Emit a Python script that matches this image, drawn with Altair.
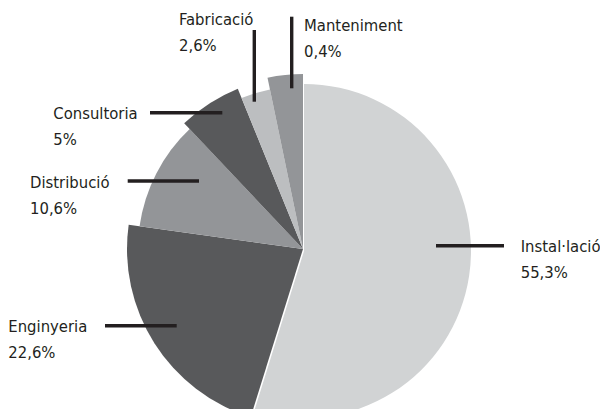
import math
import altair as alt
import pandas as pd

# ---- data ----
categories = ["Instal·lació", "Enginyeria", "Distribució", "Consultoria", "Fabricació", "Manteniment"]
# share of the circle each drawn slice covers (measured angles)
shares = [54.8, 22.4, 10.75, 5.9, 2.9, 3.25]
# percentages printed in the labels
pct_labels = ["55,3%", "22,6%", "10,6%", "5%", "2,6%", "0,4%"]

# ---- styles / layout ----
colors = ["#d1d3d4", "#58595b", "#939598", "#58595b", "#bcbec0", "#939598"]
radii = [167, 176, 165, 173, 163, 175]
# small outward shift of each slice's apex (pixels)
shift_x = [1, 0, 0, 0, 0, 0]
shift_y = [2, 0, 0, 0, 0, 0]
CX, CY = 295, 241
FONT = "Liberation Sans Narrow, DejaVu Sans Condensed, Roboto, sans-serif"
INK = "#231f20"

# leader lines (x1, y1, x2, y2) in plot pixels
leaders = {
    "Instal·lació": (428, 237.7, 496, 237.7),
    "Enginyeria": (97, 317.7, 168.7, 317.7),
    "Distribució": (119.7, 173, 191, 173),
    "Consultoria": (142, 104.7, 214.3, 104.7),
    "Fabricació": (246.3, 22, 246.3, 93.7),
    "Manteniment": (283.7, 8.7, 283.7, 80.3),
}
# label anchor (left, first baseline) in plot pixels
label_xy = {
    "Instal·lació": (512.7, 243.7),
    "Enginyeria": (0.3, 323.7),
    "Distribució": (22, 180.3),
    "Consultoria": (45.3, 111),
    "Fabricació": (171, 17),
    "Manteniment": (296, 22.7),
}

arc_df = pd.DataFrame({
    "cat": categories,
    "share": shares,
    "order": list(range(len(categories))),
    "r": radii,
    "cx": [CX + s for s in shift_x],
    "cy": [CY + s for s in shift_y],
})

arcs = alt.Chart(arc_df).transform_window(
    cum="sum(share)", sort=[alt.SortField("order", order="ascending")],
    frame=[None, 0],
).transform_calculate(
    start="datum.cum - datum.share"
).mark_arc(strokeWidth=0).encode(
    theta=alt.Theta("start:Q", scale=alt.Scale(domain=[0, 100], range=[0, 2 * math.pi]), stack=None),
    theta2=alt.Theta2("cum:Q"),
    radius=alt.Radius("r:Q", scale=None),
    color=alt.Color("cat:N", scale=alt.Scale(domain=categories, range=colors), legend=None),
    x=alt.X("cx:Q", scale=None, axis=None),
    y=alt.Y("cy:Q", scale=None, axis=None),
)

rule_df = pd.DataFrame([
    {"cat": c, "x1": leaders[c][0], "y1": leaders[c][1], "x2": leaders[c][2], "y2": leaders[c][3]}
    for c in categories
])
rules = alt.Chart(rule_df).mark_rule(color=INK, strokeWidth=3.4).encode(
    x=alt.X("x1:Q", scale=None, axis=None),
    y=alt.Y("y1:Q", scale=None, axis=None),
    x2="x2:Q",
    y2="y2:Q",
)

text_df = pd.DataFrame([
    {"cat": c, "label": f"{c}\n{p}", "x": label_xy[c][0], "y": label_xy[c][1]}
    for c, p in zip(categories, pct_labels)
])
texts = alt.Chart(text_df).mark_text(
    align="left", baseline="alphabetic", lineBreak="\n", lineHeight=26,
    fontSize=16.5, font=FONT, color=INK,
).encode(
    x=alt.X("x:Q", scale=None, axis=None),
    y=alt.Y("y:Q", scale=None, axis=None),
    text="label:N",
)

chart = alt.layer(arcs, rules, texts).properties(
    width=592, height=401, padding=0, autosize=alt.AutoSizeParams(type="none"),
    background="white",
).configure_view(stroke=None)

chart.save("out.html", embed_options={"renderer": "svg", "actions": False})
